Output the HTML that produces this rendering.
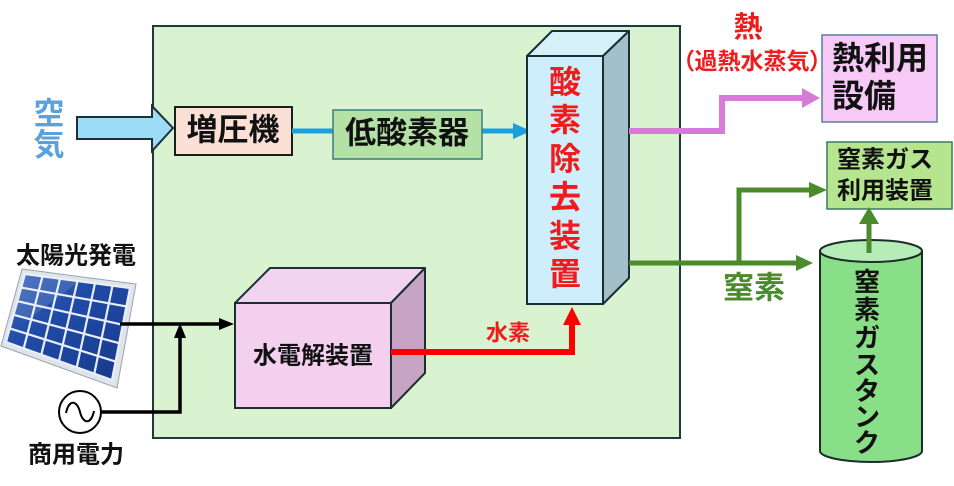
<!DOCTYPE html>
<html><head><meta charset="utf-8"><style>
html,body{margin:0;padding:0;background:#fff;}
svg{display:block;}
text{font-family:"Liberation Sans","Noto Sans CJK JP",sans-serif;font-weight:bold;}
</style></head><body>
<svg width="954" height="486" viewBox="0 0 954 486" xmlns="http://www.w3.org/2000/svg">
<defs>
<linearGradient id="pv" x1="0" y1="0" x2="1" y2="1">
<stop offset="0" stop-color="#3a67c0"/><stop offset="0.4" stop-color="#1f4aa6"/><stop offset="1" stop-color="#173a8a"/>
</linearGradient>
</defs>
<!-- main box -->
<rect x="153" y="26" width="527" height="412" fill="#d9f2d0" stroke="#1f3a3f" stroke-width="2"/>

<!-- air arrow -->
<polygon points="77,117 152,117 152,106 173,128 152,151 152,139 77,139" fill="#9cdcf6" stroke="#1b3038" stroke-width="2"/>
<text x="49" y="114" font-size="31" fill="#5aa2dc" text-anchor="middle" dominant-baseline="central">空</text>
<text x="49" y="145" font-size="31" fill="#5aa2dc" text-anchor="middle" dominant-baseline="central">気</text>

<!-- 増圧機 -->
<rect x="175" y="107" width="117" height="48" fill="#fbe1d5" stroke="#1d1d1d" stroke-width="2"/>
<text x="233" y="130" font-size="31" fill="#111" text-anchor="middle" dominant-baseline="central">増圧機</text>

<!-- blue lines -->
<line x1="292" y1="131" x2="334" y2="131" stroke="#1aa0dc" stroke-width="5"/>
<line x1="482" y1="131" x2="515" y2="131" stroke="#1aa0dc" stroke-width="5"/>
<polygon points="513,123 531,131 513,139" fill="#1aa0dc"/>

<!-- 低酸素器 -->
<rect x="333" y="110" width="149" height="49" fill="#b4e2a6" stroke="#3c7d7d" stroke-width="1.5"/>
<text x="407" y="133" font-size="31" fill="#111" text-anchor="middle" dominant-baseline="central">低酸素器</text>

<!-- column 酸素除去装置 -->
<polygon points="527,56 552,31 629,31 603,56" fill="#d6f0fa" stroke="#1b2e33" stroke-width="2" stroke-linejoin="round"/>
<polygon points="603,56 629,31 629,278 603,304" fill="#a3bfca" stroke="#1b2e33" stroke-width="2" stroke-linejoin="round"/>
<rect x="527" y="56" width="76" height="248" fill="#cdeefa" stroke="#1b2e33" stroke-width="2"/>
<g font-size="32" fill="#ee1c1c" text-anchor="middle" dominant-baseline="central">
<text x="565" y="82">酸</text>
<text x="565" y="120">素</text>
<text x="565" y="159">除</text>
<text x="565" y="197">去</text>
<text x="565" y="236">装</text>
<text x="565" y="274">置</text>
</g>

<!-- pink heat line -->
<path d="M629,131 H722 V98 H804" fill="none" stroke="#d87ad8" stroke-width="6"/>
<polygon points="802,88 820,98 802,108" fill="#d87ad8"/>
<text x="748" y="28" font-size="29" fill="#ee1c1c" text-anchor="middle" dominant-baseline="central">熱</text>
<text x="695" y="61" font-size="23" fill="#ee1c1c" text-anchor="end" dominant-baseline="central">（</text>
<text x="752" y="61" font-size="23" fill="#ee1c1c" text-anchor="middle" dominant-baseline="central">過熱水蒸気</text>
<text x="809" y="61" font-size="23" fill="#ee1c1c" text-anchor="start" dominant-baseline="central">）</text>

<!-- 熱利用設備 -->
<rect x="822" y="35" width="115" height="87" fill="#f6c9f6" stroke="#5a7fa0" stroke-width="1.5"/>
<text x="832" y="58" font-size="32" fill="#111" dominant-baseline="central">熱利用</text>
<text x="832" y="96" font-size="32" fill="#111" dominant-baseline="central">設備</text>

<!-- 窒素ガス利用装置 -->
<rect x="827" y="142" width="125" height="67" fill="#b6e590" stroke="#3a7a5a" stroke-width="1.5"/>
<text x="885" y="160" font-size="24" fill="#111" text-anchor="middle" dominant-baseline="central">窒素ガス</text>
<text x="885" y="191" font-size="24" fill="#111" text-anchor="middle" dominant-baseline="central">利用装置</text>

<!-- green lines -->
<path d="M629,263 H798" fill="none" stroke="#4b8b2c" stroke-width="5"/>
<polygon points="796,255 813,263 796,271" fill="#4b8b2c"/>
<path d="M739,263 V190 H811" fill="none" stroke="#4b8b2c" stroke-width="5"/>
<polygon points="809,182 827,190 809,198" fill="#4b8b2c"/>
<text x="754" y="288" font-size="31" fill="#4b8b2c" text-anchor="middle" dominant-baseline="central">窒素</text>

<!-- tank -->
<path d="M820,251 V451 A51,11 0 0 0 922,451 V251 Z" fill="#88df88" stroke="#1b2e2a" stroke-width="2"/>
<ellipse cx="871" cy="251" rx="51" ry="11" fill="#b6ecb6" stroke="#1b2e2a" stroke-width="2"/>
<line x1="869" y1="253" x2="869" y2="222" stroke="#4b8b2c" stroke-width="5"/>
<polygon points="859,224 869,207 879,224" fill="#4b8b2c"/>
<g font-size="26" fill="#111" text-anchor="middle" dominant-baseline="central">
<text x="867" y="282">窒</text>
<text x="867" y="310">素</text>
<text x="867" y="338">ガ</text>
<text x="867" y="365">ス</text>
<text x="867" y="391">タ</text>
<text x="867" y="417">ン</text>
<text x="867" y="443">ク</text>
</g>

<!-- electrolyzer -->
<polygon points="235,303 270,268 425,268 391,303" fill="#f2d4f0" stroke="#1b2e33" stroke-width="2" stroke-linejoin="round"/>
<polygon points="391,303 425,268 425,373 391,408" fill="#c7a4c4" stroke="#1b2e33" stroke-width="2" stroke-linejoin="round"/>
<rect x="235" y="303" width="156" height="105" fill="#f2d0ee" stroke="#1b2e33" stroke-width="2"/>
<text x="313" y="356" font-size="24" fill="#111" text-anchor="middle" dominant-baseline="central">水電解装置</text>

<!-- red hydrogen line -->
<path d="M391,352 H572 V323" fill="none" stroke="#ff0000" stroke-width="6"/>
<polygon points="563,325 572,307 581,325" fill="#ff0000"/>
<text x="508" y="333" font-size="22" fill="#ee1c1c" text-anchor="middle" dominant-baseline="central">水素</text>

<!-- solar panel -->
<polygon points="22,269 136,284 117,388 1,346" fill="#dfe3ea" stroke="#9aa3b0" stroke-width="1"/>
<polygon points="25,274 130,288 112,380 6,342" fill="url(#pv)"/>
<g stroke="#e9eef8" stroke-width="2.2" fill="none">
<polygon points="25,274 130,288 112,380 6,342"/>
<line x1="42.5" y1="276.3" x2="23.7" y2="348.3"/>
<line x1="60" y1="278.7" x2="41.3" y2="354.7"/>
<line x1="77.5" y1="281" x2="59" y2="361"/>
<line x1="95" y1="283.3" x2="76.7" y2="367.3"/>
<line x1="112.5" y1="285.7" x2="94.3" y2="373.7"/>
<line x1="21.2" y1="287.6" x2="126.4" y2="306.4"/>
<line x1="17.4" y1="301.2" x2="122.8" y2="324.8"/>
<line x1="13.6" y1="314.8" x2="119.2" y2="343.2"/>
<line x1="9.8" y1="328.4" x2="115.6" y2="361.6"/>
</g>
<polygon points="25,274 80,281 30,318 14,315" fill="#ffffff" opacity="0.12"/>
<text x="76" y="256" font-size="24" fill="#111" text-anchor="middle" dominant-baseline="central">太陽光発電</text>

<!-- black power lines -->
<path d="M120,324 H222" fill="none" stroke="#000" stroke-width="3.5"/>
<polygon points="219,318 234,324 219,330" fill="#000"/>
<path d="M101,412 H180 V336" fill="none" stroke="#000" stroke-width="3.5"/>
<polygon points="174,338 180,323 186,338" fill="#000"/>

<!-- AC source -->
<circle cx="80" cy="412" r="21" fill="#fff" stroke="#000" stroke-width="2"/>
<path d="M66,413 C69,399 77,400 80,412 C83,424 91,425 94,411" fill="none" stroke="#000" stroke-width="2"/>
<text x="76" y="455" font-size="24" fill="#111" text-anchor="middle" dominant-baseline="central">商用電力</text>
</svg>
</body></html>
